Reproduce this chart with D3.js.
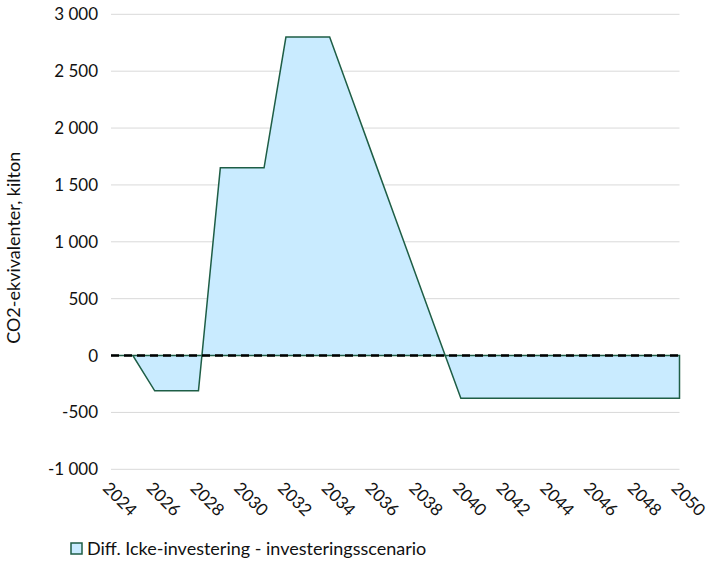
<!DOCTYPE html>
<meta charset="utf-8">
<style>
    body { margin: 0; background: #fff; }
    text { font-family: Lato, "Open Sans", sans-serif; fill: #111; }
    .tick-label { font-size: 17px; }
    .axis-title { font-size: 18px; }
    .legend-label { font-size: 18px; }
</style>
<body>
    <script src="https://d3js.org/d3.v7.min.js"></script>
    <script>
        // data
        const years = [2024, 2025, 2026, 2027, 2028, 2029, 2030, 2031, 2032, 2033, 2034, 2035, 2036, 2037,
                       2038, 2039, 2040, 2041, 2042, 2043, 2044, 2045, 2046, 2047, 2048, 2049, 2050];
        const diffValues = [0, 0, -310, -310, -310, 1650, 1650, 1650, 2800, 2800, 2800, 2270, 1740, 1210,
                            680, 150, -376, -376, -376, -376, -376, -376, -376, -376, -376, -376, -376];
        const yTicks = [-1000, -500, 0, 500, 1000, 1500, 2000, 2500, 3000];
        const xTicks = [2024, 2026, 2028, 2030, 2032, 2034, 2036, 2038, 2040, 2042, 2044, 2046, 2048, 2050];
        const seriesName = "Diff. Icke-investering - investeringsscenario";
        const yTitle = "CO2-ekvivalenter, kilton";

        let width = 726;
        let height = 587;

        let svg = d3.select("body").append("svg")
            .attr("width", width)
            .attr("height", height);

        let x = d3.scaleLinear().domain([2024, 2050]).range([111, 679.5]);
        let y = d3.scaleLinear().domain([-1000, 3000]).range([469.3, 14.3]);

        // swedish style: space as thousands separator, plain hyphen for minus
        let locale = d3.formatLocale({decimal: ",", thousands: "\u00a0", grouping: [3], currency: ["", ""], minus: "-"});
        let fmt = locale.format(",");

        // gridlines
        svg.append("g")
            .selectAll("line")
            .data(yTicks)
            .join("line")
                .attr("x1", x.range()[0])
                .attr("x2", x.range()[1])
                .attr("y1", d => y(d))
                .attr("y2", d => y(d))
                .attr("stroke", "#d9d9d9")
                .attr("stroke-width", 1);

        // y tick labels
        svg.append("g")
            .selectAll("text")
            .data(yTicks)
            .join("text")
                .attr("class", "tick-label")
                .attr("x", 98)
                .attr("y", d => y(d))
                .attr("dy", "0.35em")
                .attr("text-anchor", "end")
                .text(fmt);

        // x tick labels, rotated
        svg.append("g")
            .selectAll("text")
            .data(xTicks)
            .join("text")
                .attr("class", "tick-label")
                .attr("transform", d => "translate(" + (x(d) - 5) + ",485) rotate(45)")
                .attr("dy", "0.35em")
                .text(d => d);

        // y axis title
        svg.append("text")
            .attr("class", "axis-title")
            .attr("transform", "translate(20," + ((y(3000) + y(-1000)) / 2 + 6) + ") rotate(-90)")
            .attr("text-anchor", "middle")
            .text(yTitle);

        let data = years.map((yr, i) => ({year: yr, value: diffValues[i]}));

        let area = d3.area()
            .x(d => x(d.year))
            .y0(y(0))
            .y1(d => y(d.value));

        svg.append("path")
            .datum(data)
            .attr("d", area)
            .attr("fill", "#c9ebff")
            .attr("stroke", "#1e5e46")
            .attr("stroke-width", 1.5)
            .attr("stroke-linejoin", "miter");

        // dashed zero line
        svg.append("line")
            .attr("x1", x(2024))
            .attr("x2", x(2050))
            .attr("y1", y(0))
            .attr("y2", y(0))
            .attr("stroke", "#000")
            .attr("stroke-width", 2.5)
            .attr("stroke-dasharray", "8,5");

        // legend
        let legend = svg.append("g").attr("transform", "translate(71,543)");
        legend.append("rect")
            .attr("width", 11)
            .attr("height", 11)
            .attr("fill", "#c9ebff")
            .attr("stroke", "#1e5e46")
            .attr("stroke-width", 1.5);
        legend.append("text")
            .attr("class", "legend-label")
            .attr("x", 16)
            .attr("y", 5.5)
            .attr("dy", "0.35em")
            .text(seriesName);
    </script>
</body>
